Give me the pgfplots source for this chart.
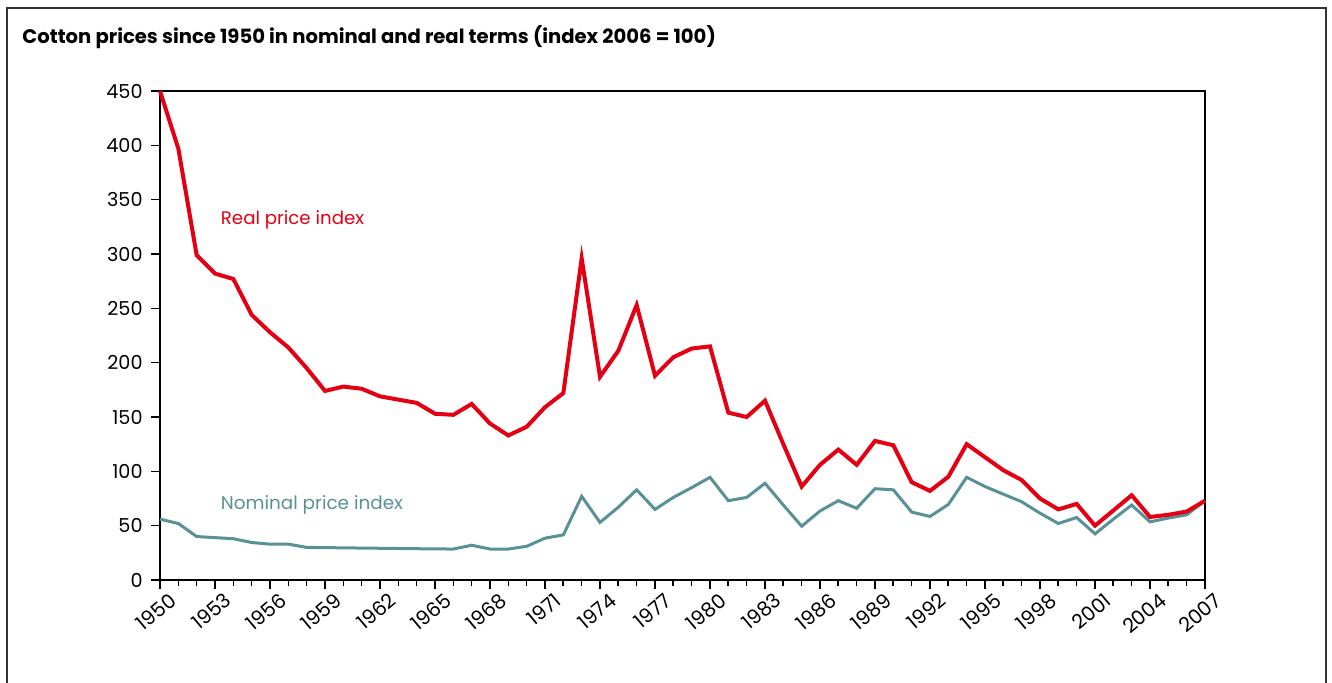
\documentclass[border=0pt]{standalone}
\usepackage{pgfplots}
\pgfplotsset{compat=1.18}
\usepackage{fontspec}
\setmainfont{Poppins}
\definecolor{realred}{RGB}{228,0,18}
\definecolor{nomteal}{RGB}{88,145,150}
\begin{document}
\begin{tikzpicture}
\useasboundingbox (0,0) rectangle (666pt,341pt);
\draw[line width=1pt,color=black!80] (3.5pt,-2pt) -- (3.5pt,337pt) -- (663pt,337pt) -- (663pt,-2pt);
\node[anchor=base west,inner sep=0pt,font=\fontsize{9.8}{11}\selectfont\bfseries] at (11pt,319.5pt) {Cotton prices since 1950 in nominal and real terms (index 2006 = 100)};
\begin{axis}[
  at={(80pt,51pt)}, anchor=south west,
  scale only axis, width=522.5pt, height=244.5pt,
  xmin=1950, xmax=2007, ymin=0, ymax=450,
  clip=false,
  axis line style={line width=0.8pt,black},
  xtick={1950,1953,...,2007},
  minor xtick={1950,...,2007},
  ytick={0,50,...,450},
  tick style={line width=0.8pt,black},
  tick align=outside,
  major tick length=4.5pt,
  minor tick length=3pt,
  xtick pos=bottom, ytick pos=left,
  tick label style={font=\fontsize{9.6}{10}\selectfont},
  /pgf/number format/assume math mode=true,
  xticklabel style={font=\fontsize{10}{11}\selectfont,rotate=40,anchor=north east,inner sep=0.5pt,yshift=-3pt,xshift=3pt},
  xticklabel={\pgfmathprintnumber[1000 sep={},fixed]{\tick}},
  yticklabel style={inner sep=2pt,xshift=-2pt},
]
\addplot[color=nomteal,line width=1.5pt] coordinates {
(1950,56) (1951,52) (1952,40) (1953,39) (1954,38) (1955,34.5) (1956,33) (1957,33) (1958,30) (1959,29.8)
(1960,29.6) (1961,29.4) (1962,29.2) (1963,29) (1964,28.8) (1965,28.6) (1966,28.5) (1967,32) (1968,28.5) (1969,28.5)
(1970,31) (1971,38.5) (1972,41.5) (1973,77) (1974,53) (1975,67) (1976,83) (1977,65) (1978,76) (1979,85)
(1980,94.5) (1981,73) (1982,76) (1983,89) (1984,69) (1985,49.5) (1986,63.5) (1987,73) (1988,66) (1989,84)
(1990,83) (1991,62.5) (1992,58.5) (1993,69.5) (1994,94.5) (1995,86) (1996,79) (1997,72) (1998,61.5) (1999,52)
(2000,57.5) (2001,42.5) (2002,56) (2003,69) (2004,53.5) (2005,57) (2006,60) (2007,73)
};
\addplot[color=realred,line width=2pt] coordinates {
(1950,450) (1951,397) (1952,299) (1953,282) (1954,277) (1955,244) (1956,228) (1957,214) (1958,195) (1959,174)
(1960,178) (1961,176) (1962,169) (1963,166) (1964,163) (1965,153) (1966,152) (1967,162) (1968,144) (1969,133)
(1970,141) (1971,159) (1972,172) (1973,296) (1974,187) (1975,211) (1976,253) (1977,188) (1978,205) (1979,213)
(1980,215) (1981,154) (1982,150) (1983,165) (1984,125) (1985,86) (1986,106) (1987,120) (1988,106) (1989,128)
(1990,124) (1991,90) (1992,82) (1993,95) (1994,125) (1995,113) (1996,101) (1997,92) (1998,75) (1999,65)
(2000,70) (2001,50) (2002,64) (2003,78) (2004,58) (2005,60) (2006,63) (2007,73)
};
\node[anchor=base west,inner sep=0pt,text=realred,font=\fontsize{9.1}{10}\selectfont] at (axis cs:1953.3,326.7) {Real price index};
\node[anchor=base west,inner sep=0pt,text=nomteal,font=\fontsize{9.2}{10}\selectfont] at (axis cs:1953.3,65.3) {Nominal price index};
\end{axis}
\end{tikzpicture}
\end{document}
